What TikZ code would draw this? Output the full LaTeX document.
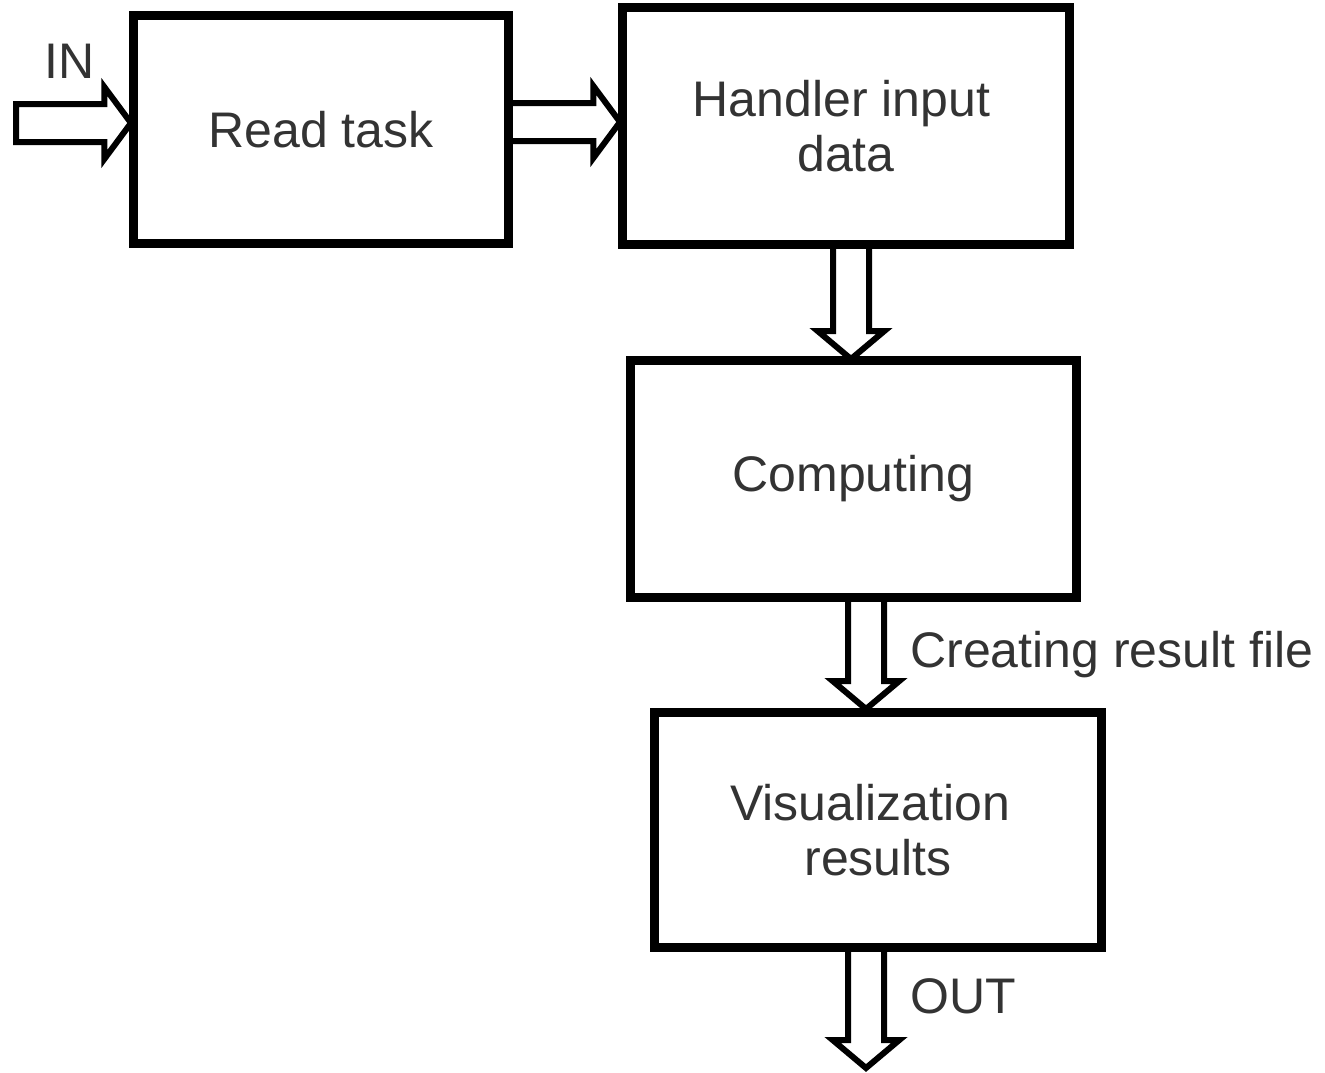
\documentclass[tikz,border=0pt]{standalone}
\usepackage{fontspec}
\setmainfont{Liberation Sans}
\usetikzlibrary{calc}
\definecolor{txt}{HTML}{333333}
\tikzset{
  box/.style={draw=black, line width=4.5pt, fill=white, inner sep=0pt, align=center,
    text=txt, font=\fontsize{37.5pt}{41.5pt}\selectfont},
  lbl/.style={text=txt, font=\fontsize{37.5pt}{41.5pt}\selectfont, inner sep=0pt},
  barrow/.style={draw=black, line width=4.5pt, fill=white, line join=miter}
}
\newcommand\harrow[2]{\draw[barrow] let \p1=(#1), \p2=(#2) in
  (\x1,\y1+14.25pt) -- (\x2-20pt,\y1+14.25pt) -- (\x2-20pt,\y1+27pt) -- (\x2,\y1)
  -- (\x2-20pt,\y1-27pt) -- (\x2-20pt,\y1-14.25pt) -- (\x1,\y1-14.25pt) -- cycle;}
\newcommand\varrow[2]{\draw[barrow] let \p1=(#1), \p2=(#2) in
  (\x1-13.5pt,\y1) -- (\x1-13.5pt,\y2+21pt) -- (\x1-25pt,\y2+21pt) -- (\x1,\y2)
  -- (\x1+25pt,\y2+21pt) -- (\x1+13.5pt,\y2+21pt) -- (\x1+13.5pt,\y1) -- cycle;}
\begin{document}
\begin{tikzpicture}[x=0.75pt, y=-0.75pt]
\useasboundingbox (0,0) rectangle (1325,1072);
\node[box, minimum width=372*0.75pt, minimum height=225*0.75pt] (read) at (321,129.5) {Read task};
\node[box, minimum width=444*0.75pt, minimum height=234*0.75pt] (handler) at (846,126) {\hspace*{-7pt}Handler input\\data};
\node[box, minimum width=443*0.75pt, minimum height=234*0.75pt] (comp) at (853.5,479) {Computing};
\node[box, minimum width=444*0.75pt, minimum height=232*0.75pt] (vis) at (878,830) {\hspace*{-12pt}Visualization\\results};
% horizontal arrows
\coordinate (inS) at (16,123);
\harrow{inS}{$(read.west)+(-1,0)$}
\coordinate (a2S) at (507,122);
\harrow{a2S}{$(handler.west)+(-1,0)$}
% vertical arrows
\coordinate (d1S) at (851,243);
\coordinate (d1E) at (851,359);
\varrow{d1S}{d1E}
\coordinate (d2S) at (866,597);
\coordinate (d2E) at (866,709);
\varrow{d2S}{d2E}
\coordinate (d3S) at (866,947);
\coordinate (d3E) at (866,1068);
\varrow{d3S}{d3E}
% redraw box borders over arrow ends
\foreach \n in {read,handler,comp,vis}{\draw[line width=4.5pt] (\n.south west) rectangle (\n.north east);}
\node[lbl, anchor=base west] (inl) at (44,78) {IN};
\node[lbl, anchor=base west] (crl) at (910,667) {Creating result file};
\node[lbl, anchor=base west] (outl) at (910,1013) {OUT};
\end{tikzpicture}
\end{document}
